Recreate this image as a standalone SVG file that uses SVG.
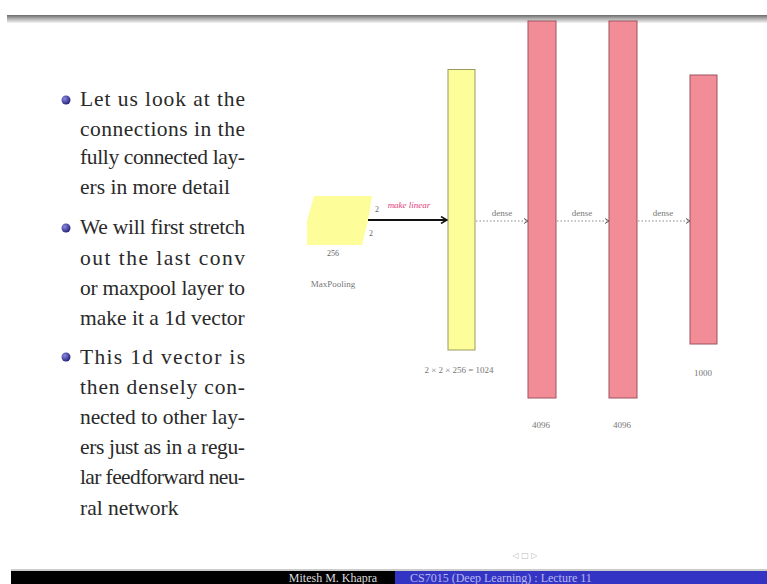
<svg xmlns="http://www.w3.org/2000/svg" width="767" height="584" viewBox="0 0 767 584">
<defs>
<linearGradient id="topbar" x1="0" y1="0" x2="0" y2="1">
<stop offset="0" stop-color="#6a6a6a"/>
<stop offset="0.4" stop-color="#a8a8a8"/>
<stop offset="1" stop-color="#f4f4f4"/>
</linearGradient>
<radialGradient id="ball" cx="0.35" cy="0.35" r="0.7">
<stop offset="0" stop-color="#8a8ae0"/>
<stop offset="1" stop-color="#20207a"/>
</radialGradient>
<marker id="arrBlack" markerWidth="8" markerHeight="8" refX="7" refY="4" orient="auto" markerUnits="userSpaceOnUse">
<path d="M1,0.5 L7,4 L1,7.5" fill="none" stroke="#111" stroke-width="1.5"/>
</marker>
<marker id="arrGray" markerWidth="6" markerHeight="6" refX="5" refY="3" orient="auto" markerUnits="userSpaceOnUse">
<path d="M1,0.5 L5,3 L1,5.5" fill="none" stroke="#555" stroke-width="1"/>
</marker>
</defs>
<style>
.body{font-family:"Liberation Serif","Times New Roman",serif;font-size:21.5px;fill:#2a2a2a}
.small{font-family:"Liberation Serif",serif;font-size:8px;fill:#666}
.lab{font-family:"Liberation Serif",serif;font-size:9px;fill:#777}
.pink{fill:#f28c96;stroke:#a05060;stroke-width:1}
.yellow{fill:#fdfd9a;stroke:#9a9a60;stroke-width:1}
.dense{stroke:#888;stroke-width:1;stroke-dasharray:1.5,2;fill:none}
.foot{font-family:"Liberation Serif",serif;font-size:12px}
</style>
<rect x="0" y="0" width="767" height="584" fill="#ffffff"/>
<rect x="7" y="15" width="760" height="8" fill="url(#topbar)"/>

<g id="bullets">
<circle cx="66" cy="100" r="4.5" fill="url(#ball)"/>
<circle cx="66" cy="228" r="4.5" fill="url(#ball)"/>
<circle cx="66" cy="357" r="4.5" fill="url(#ball)"/>
<text class="body" x="80" y="106" textLength="165" lengthAdjust="spacing">Let us look at the</text>
<text class="body" x="80" y="136" textLength="165" lengthAdjust="spacing">connections in the</text>
<text class="body" x="80" y="164" textLength="165" lengthAdjust="spacing">fully connected lay-</text>
<text class="body" x="80" y="194">ers in more detail</text>
<text class="body" x="80" y="234" textLength="165" lengthAdjust="spacing">We will first stretch</text>
<text class="body" x="80" y="265" textLength="165" lengthAdjust="spacing">out the last conv</text>
<text class="body" x="80" y="295" textLength="165" lengthAdjust="spacing">or maxpool layer to</text>
<text class="body" x="80" y="325">make it a 1d vector</text>
<text class="body" x="80" y="364" textLength="165" lengthAdjust="spacing">This 1d vector is</text>
<text class="body" x="80" y="394" textLength="165" lengthAdjust="spacing">then densely con-</text>
<text class="body" x="80" y="424" textLength="165" lengthAdjust="spacing">nected to other lay-</text>
<text class="body" x="80" y="454" textLength="165" lengthAdjust="spacing">ers just as in a regu-</text>
<text class="body" x="80" y="484" textLength="165" lengthAdjust="spacing">lar feedforward neu-</text>
<text class="body" x="80" y="515">ral network</text>
</g>

<g id="maxpool">
<polygon points="314,196 372,196 368,221 362,245 307,245 307,221" fill="#fdfd9a"/>
<text class="small" x="377" y="212" text-anchor="middle">2</text>
<text class="small" x="371" y="236" text-anchor="middle">2</text>
<text class="small" x="333" y="256" text-anchor="middle" font-size="6">256</text>
<text class="lab" x="333" y="287" text-anchor="middle">MaxPooling</text>
</g>

<g id="flat">
<rect class="yellow" x="448" y="69.5" width="27" height="280.5"/>
<text class="lab" x="459" y="373" text-anchor="middle" font-size="8">2 × 2 × 256 = 1024</text>
</g>

<g id="fc1">
<rect class="pink" x="528" y="21" width="28" height="377"/>
<text class="lab" x="541" y="428" text-anchor="middle" font-size="7">4096</text>
</g>
<g id="fc2">
<rect class="pink" x="609" y="21" width="28" height="377"/>
<text class="lab" x="622" y="428" text-anchor="middle" font-size="7">4096</text>
</g>
<g id="fc3">
<rect class="pink" x="690" y="75" width="27" height="269"/>
<text class="lab" x="703" y="376" text-anchor="middle" font-size="7">1000</text>
</g>

<g id="connectors">
<line x1="368" y1="220" x2="447" y2="220" stroke="#111" stroke-width="2" marker-end="url(#arrBlack)"/>
<text x="409" y="208" text-anchor="middle" font-family="'Liberation Serif',serif" font-style="italic" font-size="9" fill="#e0407a">make linear</text>
<line class="dense" x1="476" y1="221" x2="528" y2="221" marker-end="url(#arrGray)"/>
<text class="lab" x="502" y="216" text-anchor="middle">dense</text>
<line class="dense" x1="557" y1="221" x2="609" y2="221" marker-end="url(#arrGray)"/>
<text class="lab" x="582" y="216" text-anchor="middle">dense</text>
<line class="dense" x1="638" y1="221" x2="690" y2="221" marker-end="url(#arrGray)"/>
<text class="lab" x="663" y="216" text-anchor="middle">dense</text>
</g>

<text x="525" y="558" text-anchor="middle" font-family="'DejaVu Sans',sans-serif" font-size="8" fill="#bbb">◁ □ ▷</text>

<g id="footer">
<rect x="11" y="569" width="756" height="2" fill="#cccccc"/>
<rect x="11" y="571" width="384" height="13" fill="#000000"/>
<rect x="395" y="571" width="372" height="13" fill="#3434c4"/>
<text class="foot" x="333" y="582" text-anchor="middle" fill="#dddddd">Mitesh M. Khapra</text>
<text class="foot" x="410" y="582" fill="#b8b8ee">CS7015 (Deep Learning) : Lecture 11</text>
</g>
</svg>
